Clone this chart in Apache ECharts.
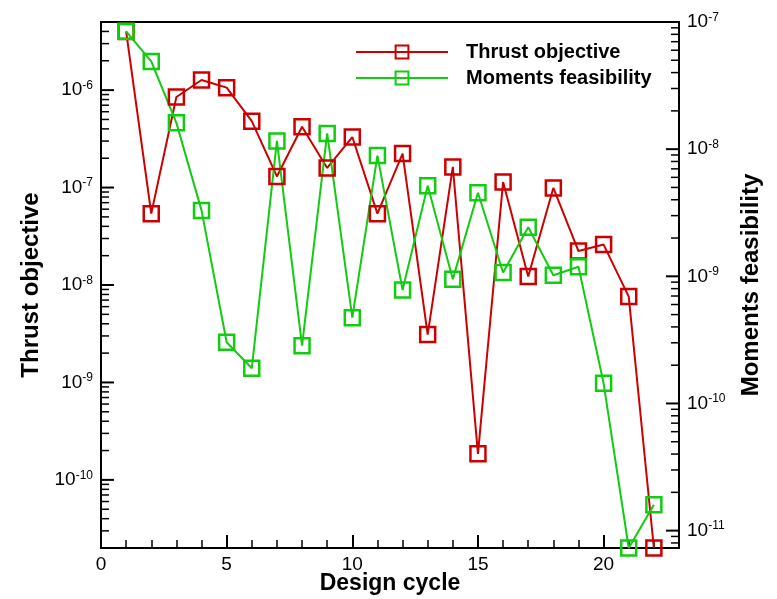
<!DOCTYPE html>
<html>
<head>
<meta charset="utf-8">
<script src="https://cdn.jsdelivr.net/npm/echarts@6/dist/echarts.min.js"></script>
<style>html,body{margin:0;padding:0;background:#fff}#c{width:777px;height:599px}</style>
</head>
<body>
<div id="c"></div>
<script>
const cycles = [1,2,3,4,5,6,7,8,9,10,11,12,13,14,15,16,17,18,19,20,21,22];
const thrustObjective = [4.0e-6,5.4e-8,8.5e-7,1.27e-6,1.06e-6,4.8e-7,1.3e-7,4.2e-7,1.59e-7,3.3e-7,5.4e-8,2.23e-7,3.1e-9,1.63e-7,1.85e-10,1.14e-7,1.22e-8,9.9e-8,2.23e-8,2.6e-8,7.6e-9,2.0e-11];
const momentsFeasibility = [8.45e-8,4.9e-8,1.61e-8,3.3e-9,3.03e-10,1.89e-10,1.16e-8,2.85e-10,1.33e-8,4.73e-10,8.9e-9,7.8e-10,5.15e-9,9.5e-10,4.54e-9,1.07e-9,2.43e-9,1.02e-9,1.19e-9,1.44e-10,7.3e-12,1.6e-11];
const seriesNames = ['Thrust objective','Moments feasibility'];
const xTickLabels = [0,5,10,15,20];
const leftRange = [2e-11, 5e-6];
const rightRange = [7.3e-12, 1e-7];
const xRange = [0, 23];

const RED = '#cc0000', GREEN = '#11cc11';
const FONT = 'Liberation Sans, Arial, Helvetica, sans-serif';

function logValues(range, mults) {
  const out = [];
  const e0 = Math.floor(Math.log10(range[0])), e1 = Math.ceil(Math.log10(range[1]));
  for (let e = e0; e <= e1; e++) {
    for (const m of mults) {
      const v = m * Math.pow(10, e);
      if (v > range[0] * 1.0001 && v < range[1] * 1.0001) out.push(v);
    }
  }
  return out;
}
function powLabel(v) {
  const l = Math.log10(v);
  const r = Math.round(l);
  if (Math.abs(l - r) > 1e-6) return '';
  return '{b|10}{s|' + r + '}';
}
const rich = {
  b: {fontFamily: FONT, fontSize: 19, color: '#000'},
  s: {fontFamily: FONT, fontSize: 12, color: '#000', padding: [0,0,9,0]}
};

function tickSeries(values, yIdx, xVal, dir, len, width) {
  return {
    type: 'custom', yAxisIndex: yIdx, xAxisIndex: 0, silent: true, z: 5, clip: false,
    data: values.map(v => [xVal, v]),
    renderItem: function (params, api) {
      const p = api.coord([api.value(0), api.value(1)]);
      return {type: 'line', shape: {x1: p[0], y1: p[1], x2: p[0] + dir * len, y2: p[1]},
        style: {stroke: '#000', lineWidth: width}};
    }
  };
}

const chart = echarts.init(document.getElementById('c'));
chart.setOption({
  animation: false,
  backgroundColor: '#fff',
  grid: {left: 101, top: 22, right: 98, bottom: 51, show: true, borderColor: '#000', borderWidth: 2,
    containLabel: false, outerBoundsMode: 'none'},
  legend: {
    data: seriesNames, orient: 'vertical', left: 350, top: 37,
    itemWidth: 92, itemHeight: 16, itemGap: 6,
    textStyle: {fontFamily: FONT, fontSize: 20, fontWeight: 'bold', color: '#000', padding: [0,0,0,13]}
  },
  xAxis: [{
    type: 'value', min: xRange[0], max: xRange[1], interval: 5,
    name: 'Design cycle', nameLocation: 'middle', nameGap: 24, nameMoveOverlap: false,
    nameTextStyle: {fontFamily: FONT, fontSize: 23, fontWeight: 'bold', color: '#000'},
    axisLine: {show: true, lineStyle: {color: '#000', width: 2}},
    axisTick: {show: true, inside: true, length: 13, lineStyle: {color: '#000', width: 2}},
    splitLine: {show: false},
    axisLabel: {fontFamily: FONT, fontSize: 19, color: '#000', margin: 7,
      formatter: v => (xTickLabels.indexOf(v) >= 0 ? String(v) : '')}
  }, {
    type: 'value', min: xRange[0], max: xRange[1], interval: 1, position: 'bottom',
    axisLine: {show: false},
    axisTick: {show: true, inside: true, length: 8, lineStyle: {color: '#000', width: 1.5}},
    splitLine: {show: false}, axisLabel: {show: false}
  }],
  yAxis: [{
    type: 'log', min: leftRange[0], max: leftRange[1], position: 'left',
    name: 'Thrust objective', nameLocation: 'middle', nameGap: 57, nameRotate: 90,
    nameTextStyle: {fontFamily: FONT, fontSize: 24, fontWeight: 'bold', color: '#000'},
    axisLine: {show: true, lineStyle: {color: '#000', width: 2}},
    axisTick: {show: false},
    splitLine: {show: false},
    axisLabel: {inside: false, margin: 8, formatter: powLabel, rich: rich}
  }, {
    type: 'log', min: rightRange[0], max: rightRange[1], position: 'right',
    name: 'Moments feasibility', nameLocation: 'middle', nameGap: 60, nameRotate: 90,
    nameTextStyle: {fontFamily: FONT, fontSize: 24, fontWeight: 'bold', color: '#000'},
    axisLine: {show: true, lineStyle: {color: '#000', width: 2}},
    axisTick: {show: false},
    splitLine: {show: false},
    axisLabel: {inside: false, margin: 8, formatter: powLabel, rich: rich}
  }],
  series: [{
    name: seriesNames[0], type: 'line', yAxisIndex: 0, z: 3,
    data: cycles.map((c, i) => [c, thrustObjective[i]]),
    symbol: 'rect', symbolSize: 15,
    lineStyle: {color: RED, width: 2},
    itemStyle: {color: 'rgba(255,255,255,0)', borderColor: RED, borderWidth: 2.5}
  }, {
    name: seriesNames[1], type: 'line', yAxisIndex: 1, z: 3,
    data: cycles.map((c, i) => [c, momentsFeasibility[i]]),
    symbol: 'rect', symbolSize: 15,
    lineStyle: {color: GREEN, width: 2},
    itemStyle: {color: 'rgba(255,255,255,0)', borderColor: GREEN, borderWidth: 2.5}
  },
  tickSeries(logValues(leftRange, [2,3,4,5,6,7,8,9]), 0, xRange[0], 1, 8, 1.5),
  tickSeries(logValues(rightRange, [2,3,4,5,6,7,8,9]), 1, xRange[1], -1, 8, 1.5),
  tickSeries(logValues(leftRange, [1]), 0, xRange[0], 1, 13, 2),
  tickSeries(logValues(rightRange, [1]), 1, xRange[1], -1, 13, 2)
  ]
});
</script>
</body>
</html>
